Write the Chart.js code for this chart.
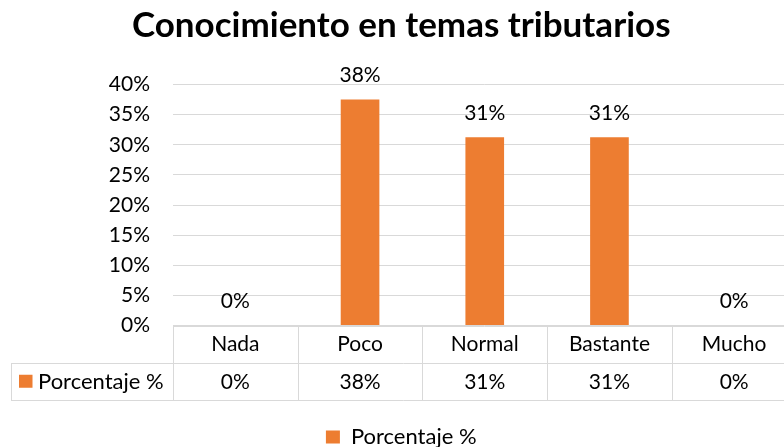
<!DOCTYPE html>
<html>
<head>
<meta charset="utf-8">
<script src="https://cdn.jsdelivr.net/npm/chart.js@4/dist/chart.umd.min.js"></script>
<style>
  html, body { margin: 0; padding: 0; background: #fff; overflow: hidden; }
  #wrap { width: 800px; height: 447px; }
</style>
</head>
<body>
<div id="wrap"><canvas id="c" width="800" height="447"></canvas></div>
<script>
const chartTitle = 'Conocimiento en temas tributarios';
const categories = ['Nada', 'Poco', 'Normal', 'Bastante', 'Mucho'];
const seriesName = 'Porcentaje %';
const values = [0, 37.5, 31.25, 31.25, 0];
const yMin = 0;
const yMax = 40;
const yStep = 5;

const ORANGE = '#ED7D31';
const GRID = '#d9d9d9';
const FONT = 'Lato, "Open Sans", sans-serif';
const FS = 21;
const PAD_LEFT = 6;

const fmt = v => Math.round(v) + '%';

const dataLabels = {
  id: 'dataLabels',
  afterDatasetsDraw(chart) {
    const ctx = chart.ctx;
    const meta = chart.getDatasetMeta(0);
    ctx.save();
    ctx.font = FS + 'px ' + FONT;
    ctx.fillStyle = '#000';
    ctx.textAlign = 'center';
    ctx.textBaseline = 'middle';
    meta.data.forEach((bar, i) => {
      ctx.fillText(fmt(values[i]), bar.x, bar.y - 24);
    });
    ctx.restore();
  }
};

const dataTable = {
  id: 'dataTable',
  afterDraw(chart) {
    const ctx = chart.ctx;
    const xs = chart.scales.x;
    const area = chart.chartArea;
    const n = categories.length;
    const step = (xs.right - xs.left) / n;
    const top = area.bottom;
    const mid = top + 37;
    const bot = top + 74.5;
    const tableLeft = 11;
    const snap = v => Math.round(v) + 0.5;
    ctx.save();
    ctx.strokeStyle = GRID;
    ctx.lineWidth = 1;
    ctx.beginPath();
    ctx.moveTo(xs.left, snap(top)); ctx.lineTo(xs.right, snap(top));
    ctx.moveTo(tableLeft, snap(mid)); ctx.lineTo(xs.right, snap(mid));
    ctx.moveTo(tableLeft, snap(bot)); ctx.lineTo(xs.right, snap(bot));
    ctx.moveTo(snap(tableLeft), snap(mid)); ctx.lineTo(snap(tableLeft), snap(bot));
    for (let i = 0; i <= n; i++) {
      const ex = snap(xs.left + i * step);
      ctx.moveTo(ex, snap(top)); ctx.lineTo(ex, snap(bot));
    }
    ctx.stroke();

    ctx.font = FS + 'px ' + FONT;
    ctx.fillStyle = '#000';
    ctx.textAlign = 'center';
    ctx.textBaseline = 'middle';
    categories.forEach((c, i) => {
      const cx = xs.getPixelForValue(i);
      ctx.fillText(c, cx, (top + mid) / 2 + 0.5);
      ctx.fillText(fmt(values[i]), cx, (mid + bot) / 2 + 0.5);
    });
    // series key
    ctx.fillStyle = ORANGE;
    ctx.fillRect(19, (mid + bot) / 2 - 6.5, 13.5, 13);
    ctx.fillStyle = '#000';
    ctx.textAlign = 'left';
    ctx.font = '22px ' + FONT;
    ctx.fillText(seriesName, 38, (mid + bot) / 2 + 0.5);
    ctx.restore();
  }
};

new Chart(document.getElementById('c'), {
  type: 'bar',
  data: {
    labels: categories,
    datasets: [{
      label: seriesName,
      data: values,
      backgroundColor: ORANGE,
      borderWidth: 0,
      barPercentage: 1,
      categoryPercentage: 0.31
    }]
  },
  options: {
    responsive: false,
    animation: false,
    devicePixelRatio: 1,
    layout: { padding: { left: PAD_LEFT, right: 3.5, top: 0, bottom: -11 } },
    plugins: {
      title: {
        display: true,
        text: chartTitle,
        color: '#000',
        font: { family: FONT, size: 35, weight: 'bold', lineHeight: 1.2 },
        padding: { top: 4.5, bottom: 38 }
      },
      legend: {
        display: true,
        position: 'bottom',
        labels: {
          color: '#000',
          font: { family: FONT, size: 22 },
          boxWidth: 14,
          boxHeight: 13,
          padding: 0
        }
      },
      tooltip: { enabled: false }
    },
    scales: {
      x: {
        display: true,
        grid: { display: false },
        border: { display: false },
        ticks: { display: false },
        afterFit: s => { s.height = 100.5; }
      },
      y: {
        min: yMin,
        max: yMax,
        grid: { color: GRID, lineWidth: 1, drawTicks: false },
        border: { display: false },
        ticks: {
          stepSize: yStep,
          padding: 23,
          color: '#000',
          font: { family: FONT, size: FS },
          callback: v => v + '%'
        },
        afterFit: s => { s.width = 173 - PAD_LEFT; }
      }
    }
  },
  plugins: [dataLabels, dataTable]
});
</script>
</body>
</html>
